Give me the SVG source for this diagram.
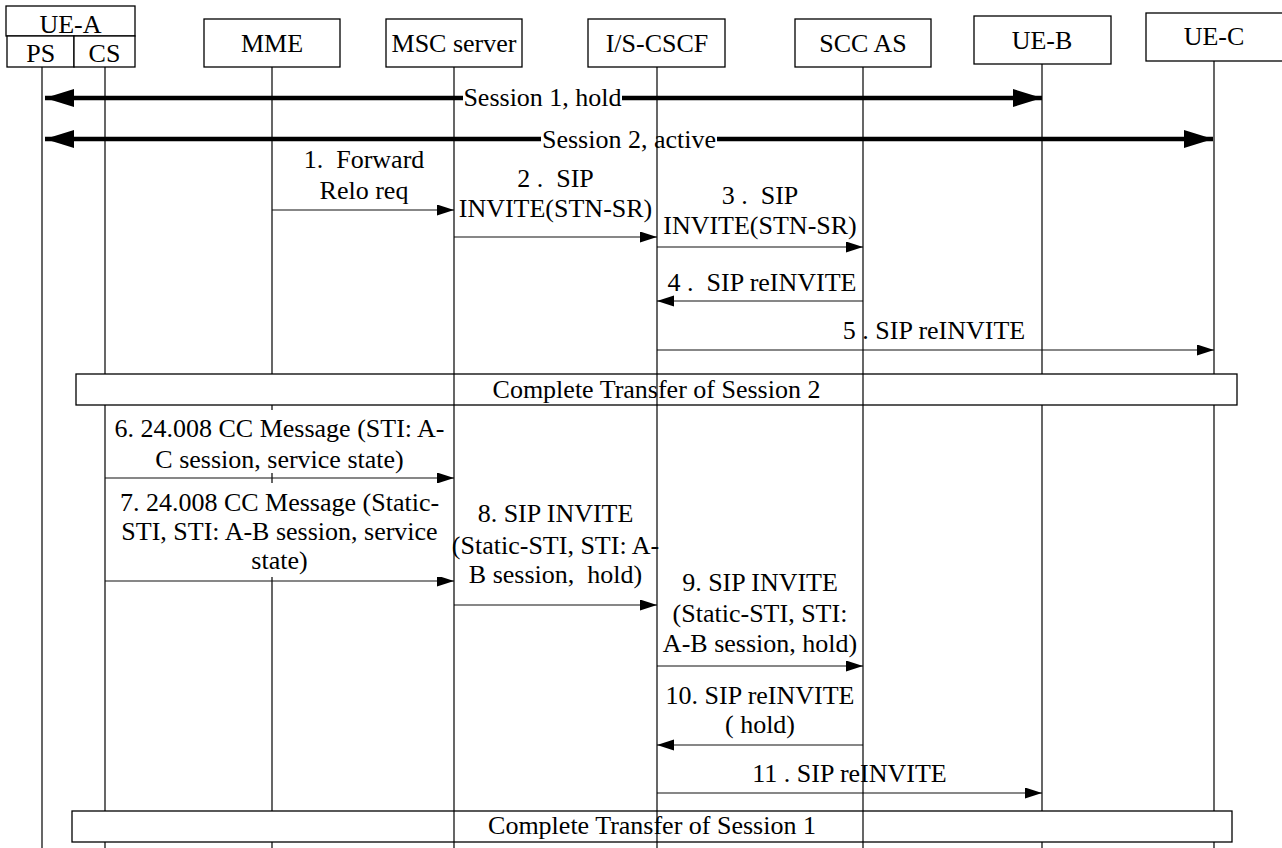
<svg xmlns="http://www.w3.org/2000/svg" width="1282" height="848" viewBox="0 0 1282 848">
  <style>
    text { font-family: "Liberation Serif", "Times New Roman", serif; font-size: 26px; fill: #000; text-anchor: middle; white-space: pre; }
    .box { fill: #fff; stroke: #000; stroke-width: 1.3; }
    .life { stroke: #000; stroke-width: 1.2; fill: none; }
    .msg { stroke: #111; stroke-width: 1.2; fill: none; marker-end: url(#ah); }
    .sess { stroke: #000; stroke-width: 4.5; fill: none; marker-start: url(#big); marker-end: url(#big); }
    .bg { fill: #fff; stroke: none; }
  </style>
  <defs>
    <!-- small head for signalling messages -->
    <marker id="ah" markerUnits="userSpaceOnUse" markerWidth="18" markerHeight="12" refX="17" refY="5.5" orient="auto">
      <path d="M0,0 L17,5.5 L0,11 z" fill="#000"/>
    </marker>
    <!-- large head for the bearer sessions -->
    <marker id="big" markerUnits="userSpaceOnUse" markerWidth="30" markerHeight="20" refX="29" refY="9" orient="auto-start-reverse">
      <path d="M0,0 L29,9 L0,18 z" fill="#000"/>
    </marker>
  </defs>

  <rect width="1282" height="848" fill="#fff"/>

  <!-- lifelines that run beneath the transfer bars and labels -->
  <g id="lifelines-under">
    <line class="life" x1="42" y1="67" x2="42" y2="848"/>
    <line class="life" x1="105" y1="67" x2="105" y2="848"/>
    <line class="life" x1="272" y1="67" x2="272" y2="848"/>
    <line class="life" x1="1042" y1="64" x2="1042" y2="848"/>
    <line class="life" x1="1214" y1="61" x2="1214" y2="848"/>
  </g>

  <!-- participants -->
  <g id="ue-a">
    <rect class="box" x="6" y="6" width="129" height="30"/>
    <rect class="box" x="7" y="36" width="67" height="31"/>
    <rect class="box" x="74" y="36" width="61" height="31"/>
    <text x="70.5" y="33">UE-A</text>
    <text x="40.7" y="62">PS</text>
    <text x="104.5" y="62">CS</text>
  </g>
  <g id="mme">
    <rect class="box" x="204" y="19" width="136" height="48"/>
    <text x="272" y="52">MME</text>
  </g>
  <g id="msc-server">
    <rect class="box" x="386" y="19" width="136" height="48"/>
    <text x="454" y="52">MSC server</text>
  </g>
  <g id="is-cscf">
    <rect class="box" x="588" y="19" width="137" height="48"/>
    <text x="657" y="52">I/S-CSCF</text>
  </g>
  <g id="scc-as">
    <rect class="box" x="795" y="19" width="136" height="48"/>
    <text x="863" y="52">SCC AS</text>
  </g>
  <g id="ue-b">
    <rect class="box" x="974" y="16" width="137" height="48"/>
    <text x="1042" y="49">UE-B</text>
  </g>
  <g id="ue-c">
    <rect class="box" x="1146" y="13" width="140" height="48"/>
    <text x="1214" y="45">UE-C</text>
  </g>

  <!-- connectors -->
  <g id="connectors">
    <line class="sess" x1="45" y1="98" x2="1042" y2="98"/>
    <line class="sess" x1="45" y1="139" x2="1213" y2="139"/>
    <line class="msg" x1="272" y1="210" x2="454" y2="210"/>
    <line class="msg" x1="454" y1="237" x2="657" y2="237"/>
    <line class="msg" x1="657" y1="247" x2="863" y2="247"/>
    <line class="msg" x1="863" y1="301" x2="657" y2="301"/>
    <line class="msg" x1="657" y1="350" x2="1214" y2="350"/>
    <line class="msg" x1="105" y1="478" x2="454" y2="478"/>
    <line class="msg" x1="105" y1="581" x2="454" y2="581"/>
    <line class="msg" x1="454" y1="605" x2="657" y2="605"/>
    <line class="msg" x1="657" y1="666" x2="863" y2="666"/>
    <line class="msg" x1="863" y1="745" x2="657" y2="745"/>
    <line class="msg" x1="657" y1="793" x2="1042" y2="793"/>
  </g>

  <!-- message labels -->
  <g id="labels">
    <rect class="bg" x="463" y="88" width="159" height="21"/>
    <rect class="bg" x="541" y="129" width="176" height="21"/>
    <rect class="bg" x="112" y="410" width="336" height="63"/>
    <rect class="bg" x="112" y="483" width="336" height="94"/>
    <text x="542.5" y="106">Session 1, hold</text>
    <text x="629" y="148">Session 2, active</text>
    <text x="364" y="168">1.  Forward</text>
    <text x="364" y="199">Relo req</text>
    <text x="555.5" y="187">2 .  SIP</text>
    <text x="555.5" y="217">INVITE(STN-SR)</text>
    <text x="760" y="204">3 .  SIP</text>
    <text x="760" y="234">INVITE(STN-SR)</text>
    <text x="762" y="291">4 .  SIP reINVITE</text>
    <text x="934" y="339">5 . SIP reINVITE</text>
    <text x="279.5" y="437">6. 24.008 CC Message (STI: A-</text>
    <text x="279.5" y="468">C session, service state)</text>
    <text x="279.5" y="511">7. 24.008 CC Message (Static-</text>
    <text x="279.5" y="540">STI, STI: A-B session, service</text>
    <text x="279.5" y="569">state)</text>
    <text x="555.5" y="522">8. SIP INVITE</text>
    <text x="555.5" y="554">(Static-STI, STI: A-</text>
    <text x="555.5" y="583">B session,  hold)</text>
    <text x="760" y="591">9. SIP INVITE</text>
    <text x="760" y="622">(Static-STI, STI:</text>
    <text x="760" y="652">A-B session, hold)</text>
    <text x="760" y="704">10. SIP reINVITE</text>
    <text x="760" y="733">( hold)</text>
    <text x="849.5" y="782">11 . SIP reINVITE</text>
  </g>

  <!-- transfer bars -->
  <g id="transfer-session-2">
    <rect class="box" x="76" y="374" width="1161" height="31"/>
    <text x="656.5" y="398">Complete Transfer of Session 2</text>
  </g>
  <g id="transfer-session-1">
    <rect class="box" x="72" y="811" width="1160" height="31"/>
    <text x="652" y="834">Complete Transfer of Session 1</text>
  </g>

  <!-- lifelines drawn over the bars and labels -->
  <g id="lifelines-over">
    <line class="life" x1="454" y1="67" x2="454" y2="848"/>
    <line class="life" x1="657" y1="67" x2="657" y2="848"/>
    <line class="life" x1="863" y1="67" x2="863" y2="848"/>
  </g>
</svg>
